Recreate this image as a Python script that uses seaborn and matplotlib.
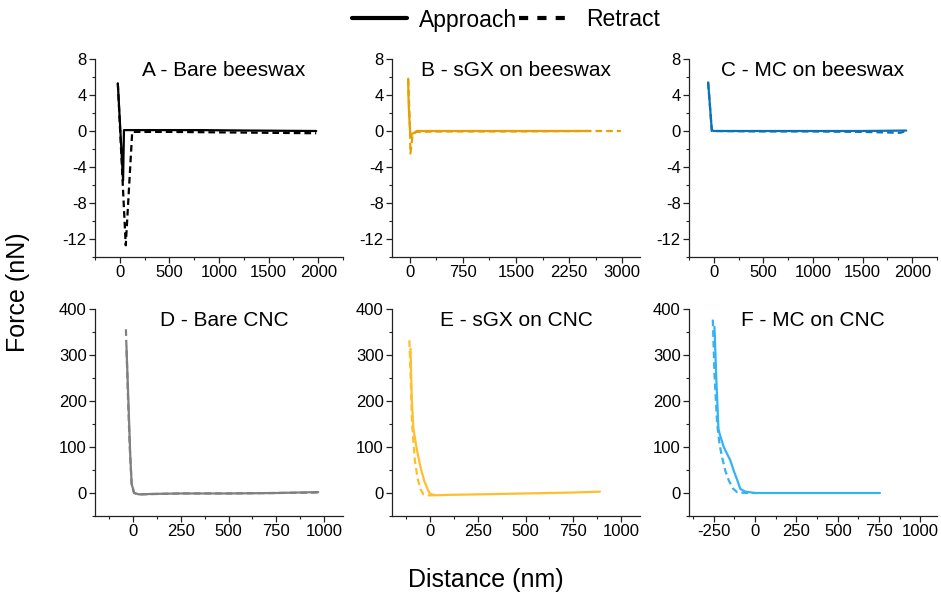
import matplotlib
matplotlib.use("Agg")
import matplotlib.pyplot as plt
from matplotlib.lines import Line2D
from matplotlib.ticker import MultipleLocator
import seaborn as sns
import pandas as pd

# ---------------- data ----------------
titles = ["A - Bare beeswax", "B - sGX on beeswax", "C - MC on beeswax",
          "D - Bare CNC", "E - sGX on CNC", "F - MC on CNC"]
colors = ["#000000", "#E8A000", "#0A72BA", "#808080", "#FFBE2E", "#33B2F5"]

a_app_x = [-20, 33, 42, 300, 800, 1300, 1980]
a_app_y = [5.3, -5.5, 0.1, 0.1, 0.1, 0.05, 0.0]
a_ret_x = [-20, 60, 125, 500, 1000, 1500, 1980]
a_ret_y = [5.3, -12.7, -0.1, -0.1, -0.15, -0.2, -0.25]

b_app_x = [-22, -15, 5, 15, 40, 100, 500, 1000, 1500, 2000, 2530]
b_app_y = [5.8, 3.0, 0.0, -0.6, -0.3, 0.0, 0.0, 0.0, 0.0, 0.0, 0.0]
b_ret_x = [-22, 5, 10, 40, 90, 500, 1500, 2500, 2980]
b_ret_y = [5.8, 0.0, -2.5, -0.5, -0.1, -0.05, -0.05, 0.0, 0.0]

c_app_x = [-57, -20, 0, 500, 1000, 1500, 1940]
c_app_y = [5.4, 0.1, 0.0, 0.0, 0.0, 0.0, 0.05]
c_ret_x = [-57, -20, 500, 1000, 1500, 1880, 1940]
c_ret_y = [5.4, 0.0, -0.05, -0.05, -0.1, -0.2, 0.0]

d_app_x = [-35, -25, -15, -8, 5, 30, 100, 250, 500, 750, 970]
d_app_y = [318, 200, 80, 20, 0, -3, -2, -1, -1, 0, 2]
d_ret_x = [-38, -28, -18, -8, 5, 30, 250, 500, 750, 970]
d_ret_y = [356, 220, 100, 20, 0, -3, -1, -1, 0, 1]

e_app_x = [-103, -96, -88, -70, -50, -30, -10, 0, 30, 100, 250, 500, 750, 890]
e_app_y = [314, 200, 140, 95, 55, 25, 5, -2, -5, -4, -3, -1, 1, 3]
e_ret_x = [-109, -102, -95, -80, -65, -50, -35, -10, 30]
e_ret_y = [332, 250, 151, 70, 30, 8, -3, -5, -5]

f_app_x = [-246, -235, -222, -215, -190, -150, -130, -105, -90, -60, 0, 250, 500, 755]
f_app_y = [361, 250, 140, 129, 100, 71, 49, 25, 9, 3, 0, 0, 0, 0]
f_ret_x = [-256, -246, -230, -215, -200, -180, -160, -135, -110, -60, 0]
f_ret_y = [377, 260, 151, 105, 78, 48, 28, 10, 2, 0, 0]

curves = [(a_app_x, a_app_y, a_ret_x, a_ret_y),
          (b_app_x, b_app_y, b_ret_x, b_ret_y),
          (c_app_x, c_app_y, c_ret_x, c_ret_y),
          (d_app_x, d_app_y, d_ret_x, d_ret_y),
          (e_app_x, e_app_y, e_ret_x, e_ret_y),
          (f_app_x, f_app_y, f_ret_x, f_ret_y)]

xlims = [(-250, 2250), (-250, 3250), (-250, 2250), (-200, 1100), (-200, 1100), (-400, 1100)]
xmajor = [500, 750, 500, 250, 250, 250]
ylims_top = (-14, 8)
ylims_bot = (-50, 400)

# ---------------- style ----------------
sns.set_style("ticks")
plt.rcParams["font.family"] = ["Liberation Sans", "DejaVu Sans"]
plt.rcParams["axes.unicode_minus"] = False
plt.rcParams["text.color"] = "black"

W, H = 941, 593
fig = plt.figure(figsize=(W / 100, H / 100), dpi=100)

lefts = [95, 392, 689]
rows = [(59, 198), (309, 207)]

for i in range(6):
    r, c = divmod(i, 3)
    top, h = rows[r]
    ax = fig.add_axes([lefts[c] / W, 1 - (top + h) / H, 248 / W, h / H])
    ax_x, ax_y, rx, ry = curves[i]
    df_a = pd.DataFrame({"x": ax_x, "y": ax_y})
    df_r = pd.DataFrame({"x": rx, "y": ry})
    sns.lineplot(data=df_r, x="x", y="y", ax=ax, color=colors[i], lw=1.6,
                 sort=False, estimator=None, linestyle=(0, (3, 1.8)))
    sns.lineplot(data=df_a, x="x", y="y", ax=ax, color=colors[i], lw=1.6,
                 sort=False, estimator=None)
    ax.set_xlim(*xlims[i])
    ax.set_ylim(*(ylims_top if r == 0 else ylims_bot))
    ax.xaxis.set_major_locator(MultipleLocator(xmajor[i]))
    ax.xaxis.set_minor_locator(MultipleLocator(xmajor[i] / 2))
    if r == 0:
        ax.yaxis.set_major_locator(MultipleLocator(4))
        ax.yaxis.set_minor_locator(MultipleLocator(2))
    else:
        ax.yaxis.set_major_locator(MultipleLocator(100))
        ax.yaxis.set_minor_locator(MultipleLocator(50))
    xt = [t for t in ax.get_xticks() if xlims[i][0] < t <= xlims[i][1] - 1]
    ax.set_xticks(xt)
    ax.set_xticklabels([f"{int(t)}" for t in xt])
    yl = ax.get_ylim()
    yt = [t for t in ax.get_yticks() if yl[0] < t <= yl[1] + 1e-9]
    ax.set_yticks(yt)
    ax.set_yticklabels([f"{int(t)}" for t in yt])
    ax.set_xlabel("")
    ax.set_ylabel("")
    sns.despine(ax=ax)
    for s in ["left", "bottom"]:
        ax.spines[s].set_linewidth(0.9)
        ax.spines[s].set_color("#222222")
    ax.tick_params(which="major", direction="out", length=4, width=0.9,
                   labelsize=12, colors="#222222", labelcolor="black", pad=2)
    ax.tick_params(which="minor", direction="out", length=2.5, width=0.8,
                   colors="#222222")
    xoff = 0.52 if c == 0 else 0.5
    ax.text(xoff, 0.99, titles[i], transform=ax.transAxes, ha="center", va="top",
            fontsize=15, color="black")

fig.text(18 / W, 1 - 292 / H, "Force (nN)", rotation=90, ha="center", va="center",
         fontsize=18, color="black")
fig.text(486 / W, 1 - 580 / H, "Distance (nm)", ha="center", va="center",
         fontsize=18, color="black")

handles = [Line2D([], [], color="black", lw=3),
           Line2D([], [], color="black", lw=3, linestyle=(0, (2.2, 2.2)))]
fig.legend(handles, ["Approach", "Retract"], loc="center",
           bbox_to_anchor=(506 / W, 1 - 20 / H), ncol=2, frameon=False,
           fontsize=16.5, handlelength=2.4, handletextpad=0.5, columnspacing=0.1,
           borderpad=0, borderaxespad=0)

fig.savefig("out.png", dpi=100)
